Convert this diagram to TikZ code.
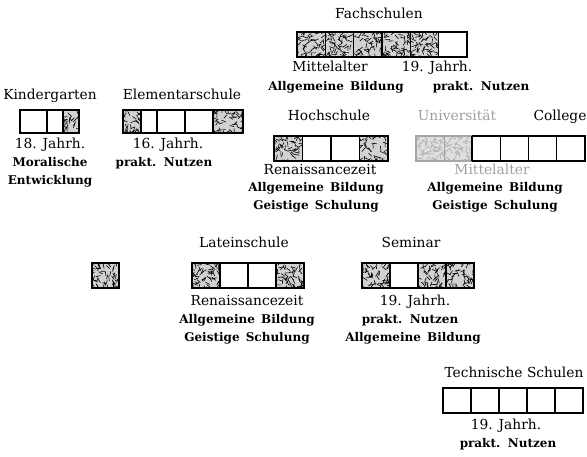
\documentclass[tikz,border=0pt]{standalone}
\usepackage{fontspec}
\setmainfont{DejaVu Serif}
\newcommand\hatchstrokes[1]{%
  \begin{scope}[shift={(path picture bounding box.center)}]
  \foreach \k in {1,...,60}{%
    \pgfmathsetmacro\hx{(rnd-0.5)*32}%
    \pgfmathsetmacro\hy{(rnd-0.5)*28}%
    \pgfmathsetmacro\ha{rnd*360}%
    \draw[#1, line width=0.6pt, line cap=round] (\hx,\hy) -- ++(\ha:4.5);
  }%
  \end{scope}}
\begin{document}
\begin{tikzpicture}[x=1pt,y=-1pt,
  lbl/.style={inner sep=0pt, font=\fontsize{13.8}{16}\selectfont, text height=10pt, text depth=2.5pt},
  blbl/.style={lbl, font=\fontsize{12}{14}\selectfont\bfseries},
  glbl/.style={lbl, text=gray!75},
  cw/.style={draw, line width=1.2pt, inner sep=0pt, minimum height=25pt, fill=white},
  ch/.style={cw, fill=gray!35, path picture={\hatchstrokes{black}}},
  cg/.style={cw, draw=gray!70, fill=gray!25, path picture={\hatchstrokes{gray!70}}},
  frame/.style={line width=1.6pt},
]
\pgfmathsetseed{4711}
\useasboundingbox (0,0) rectangle (587,456);

% Fachschulen
\node[lbl] (faT) at (379,15) {Fachschulen};
\foreach \i/\s in {1/ch,2/ch,3/ch,4/ch,5/ch,6/cw}
  \node[\s, minimum width=28.33pt] (fa\i) at ({297+(\i-0.5)*28.333}, 44.5) {};
\draw[frame] (fa1.north west) rectangle (fa6.south east);
\node[lbl] (faA) at (330,68) {Mittelalter};
\node[lbl] (faB) at (437,68) {19. Jahrh.};
\node[blbl] (faC) at (336,87) {Allgemeine\, Bildung};
\node[blbl] (faD) at (481,87) {prakt.\, Nutzen};

% Kindergarten
\node[lbl] (kiT) at (50,96) {Kindergarten};
\node[cw, minimum width=27pt, minimum height=23pt] (ki1) at (33.5,121.5) {};
\node[cw, minimum width=16pt, minimum height=23pt] (ki2) at (55,121.5) {};
\node[ch, minimum width=16pt, minimum height=23pt] (ki3) at (71,121.5) {};
\draw[frame] (ki1.north west) rectangle (ki3.south east);
\node[lbl] (kiA) at (50,145) {18. Jahrh.};
\node[blbl] (kiB) at (50,163) {Moralische};
\node[blbl] (kiC) at (50,181) {Entwicklung};

% Elementarschule
\node[lbl] (elT) at (182,96) {Elementarschule};
\node[ch, minimum width=18pt, minimum height=23pt] (el1) at (132,121.5) {};
\node[cw, minimum width=16pt, minimum height=23pt] (el2) at (149,121.5) {};
\node[cw, minimum width=28pt, minimum height=23pt] (el3) at (171,121.5) {};
\node[cw, minimum width=28pt, minimum height=23pt] (el4) at (199,121.5) {};
\node[ch, minimum width=30pt, minimum height=23pt] (el5) at (228,121.5) {};
\draw[frame] (el1.north west) rectangle (el5.south east);
\node[lbl] (elA) at (168,145) {16. Jahrh.};
\node[blbl] (elB) at (164,163) {prakt.\, Nutzen};

% Hochschule
\node[lbl] (hoT) at (329,117) {Hochschule};
\foreach \i/\s in {1/ch,2/cw,3/cw,4/ch}
  \node[\s, minimum width=28.5pt] (ho\i) at ({274+(\i-0.5)*28.5}, 148.5) {};
\draw[frame] (ho1.north west) rectangle (ho4.south east);
\node[lbl] (hoA) at (320,171) {Renaissancezeit};
\node[blbl] (hoB) at (316,188) {Allgemeine\, Bildung};
\node[blbl] (hoC) at (316,206) {Geistige\, Schulung};

% Universitaet / College
\node[glbl] (unT) at (457,117) {Universität};
\node[lbl] (coT) at (560,117) {College};
\foreach \i/\s in {1/cg,2/cg,3/cw,4/cw,5/cw,6/cw}
  \node[\s, minimum width=28.17pt] (un\i) at ({416+(\i-0.5)*28.17}, 148.5) {};
\draw[frame] (un3.north west) rectangle (un6.south east);
\draw[frame, gray!70] (un3.north west) -- (un1.north west) -- (un1.south west) -- (un3.south west);
\node[glbl] (unA) at (492,171) {Mittelalter};
\node[blbl] (unB) at (495,188) {Allgemeine\, Bildung};
\node[blbl] (unC) at (495,206) {Geistige\, Schulung};

% single cell
\node[ch, minimum width=27pt, frame] (si1) at (105.5,275.5) {};

% Lateinschule
\node[lbl] (laT) at (244,244) {Lateinschule};
\foreach \i/\s in {1/ch,2/cw,3/cw,4/ch}
  \node[\s, minimum width=28pt] (la\i) at ({192+(\i-0.5)*28}, 275.5) {};
\draw[frame] (la1.north west) rectangle (la4.south east);
\node[lbl] (laA) at (247,302) {Renaissancezeit};
\node[blbl] (laB) at (247,320) {Allgemeine\, Bildung};
\node[blbl] (laC) at (247,338) {Geistige\, Schulung};

% Seminar
\node[lbl] (seT) at (411,244) {Seminar};
\foreach \i/\s in {1/ch,2/cw,3/ch,4/ch}
  \node[\s, minimum width=28pt] (se\i) at ({362+(\i-0.5)*28}, 275.5) {};
\draw[frame] (se1.north west) rectangle (se4.south east);
\node[lbl] (seA) at (415,302) {19. Jahrh.};
\node[blbl] (seB) at (410,320) {prakt.\, Nutzen};
\node[blbl] (seC) at (413,338) {Allgemeine\, Bildung};

% Technische Schulen
\node[lbl] (teT) at (514,374) {Technische Schulen};
\foreach \i in {1,...,5}
  \node[cw, minimum width=28pt] (te\i) at ({443+(\i-0.5)*28}, 400.5) {};
\draw[frame] (te1.north west) rectangle (te5.south east);
\node[lbl] (teA) at (506,426) {19. Jahrh.};
\node[blbl] (teB) at (508,444) {prakt.\, Nutzen};
\end{tikzpicture}
\end{document}
